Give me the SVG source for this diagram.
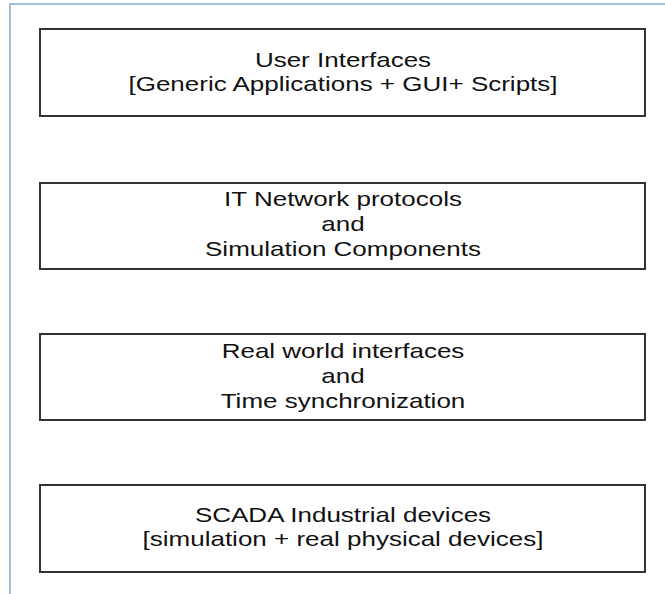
<svg xmlns="http://www.w3.org/2000/svg" width="665" height="594" viewBox="0 0 665 594">
  <style>
    .frame { fill: none; stroke: #a3bedc; stroke-width: 2; }
    .layer { fill: #ffffff; stroke: #333333; stroke-width: 2; }
    .label { font-family: "Liberation Sans", Arial, sans-serif; font-size: 20px; fill: #111111; text-anchor: middle; }
  </style>
  <rect x="0" y="0" width="665" height="594" fill="#ffffff"/>
  <!-- outer page frame, left and top edges -->
  <path class="frame" d="M10,594 V4 H665"/>

  <g id="user-interfaces">
    <rect class="layer" x="40" y="29" width="605" height="87"/>
    <g transform="translate(343 0) scale(1.3 1)">
      <text class="label" x="0" y="67">User Interfaces</text>
      <text class="label" x="0" y="91">[Generic Applications + GUI+ Scripts]</text>
    </g>
  </g>

  <g id="it-network">
    <rect class="layer" x="40" y="183" width="605" height="86"/>
    <g transform="translate(343 0) scale(1.3 1)">
      <text class="label" x="0" y="206">IT Network protocols</text>
      <text class="label" x="0" y="231">and</text>
      <text class="label" x="0" y="256">Simulation Components</text>
    </g>
  </g>

  <g id="real-world">
    <rect class="layer" x="40" y="334" width="605" height="86"/>
    <g transform="translate(343 0) scale(1.3 1)">
      <text class="label" x="0" y="358">Real world interfaces</text>
      <text class="label" x="0" y="383">and</text>
      <text class="label" x="0" y="408">Time synchronization</text>
    </g>
  </g>

  <g id="scada-devices">
    <rect class="layer" x="40" y="485" width="605" height="87"/>
    <g transform="translate(343 0) scale(1.3 1)">
      <text class="label" x="0" y="522">SCADA Industrial devices</text>
      <text class="label" x="0" y="546">[simulation + real physical devices]</text>
    </g>
  </g>

  <g id="connectors"/>
</svg>
